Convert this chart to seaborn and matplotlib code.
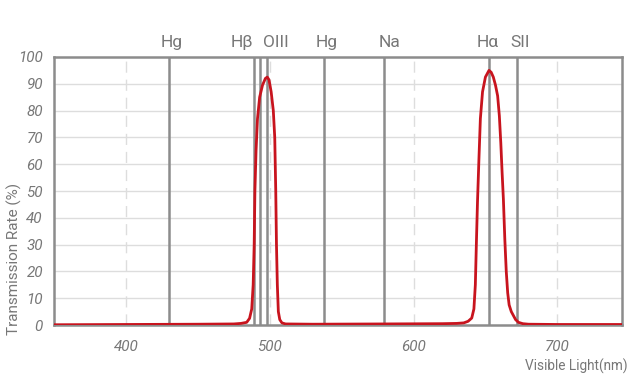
import matplotlib
matplotlib.use('Agg')
import matplotlib.pyplot as plt
import pandas as pd
import seaborn as sns

# transmission curve (nm, %)
wavelength = [350, 400, 450, 475, 480, 484, 486, 487.5, 488.5, 489.2, 489.7, 490.5, 491.5,
              493, 495, 497, 498.3, 499.5, 501, 502.5, 503.5, 504.2, 504.7, 505.3, 506,
              507, 508.5, 511, 530, 580, 620, 630, 635, 638, 640.5, 642, 643, 643.7,
              644.5, 645.5, 646.5, 648, 650, 652.5, 654, 655.5, 657, 658.5, 659.7, 660.7,
              661.6, 662.5, 663.5, 664.5, 665.5, 666.5, 668, 669.5, 671, 673, 676, 680,
              700, 745]
transmission = [0.1, 0.2, 0.3, 0.4, 0.6, 1.0, 2.5, 6, 15, 30, 50, 65, 77,
                85, 89.5, 92, 92.5, 91.5, 87, 80, 70, 50, 30, 15, 5,
                2, 0.8, 0.4, 0.3, 0.4, 0.5, 0.6, 0.8, 1.4, 2.6, 6, 15, 30,
                46, 62, 77, 87, 92.5, 95, 94.3, 92.5, 89.5, 85.5, 78, 68,
                57, 47, 32, 20, 12, 7.5, 5, 3.5, 2, 1, 0.5, 0.3,
                0.2, 0.2]

# emission lines and their labels
line_pos = [430, 489, 493.5, 498, 537.5, 579.5, 652.3, 672]
label_text = ['Hg', 'Hβ', 'OIII', 'Hg', 'Na', 'Hα', 'SII']
label_pos = [432, 480.5, 504, 539.5, 583, 651.5, 674]

x_ticks = [400, 500, 600, 700]
y_ticks = [0, 10, 20, 30, 40, 50, 60, 70, 80, 90, 100]

df = pd.DataFrame({'Wavelength': wavelength, 'Transmission': transmission})

sns.set_style('white')
plt.rcParams['font.family'] = ['Roboto', 'DejaVu Sans']

fig = plt.figure(figsize=(6.4, 3.84), dpi=100)
ax = fig.add_axes([0.0844, 0.1536, 0.8875, 0.698])

# grid
for y in y_ticks[1:-1]:
    ax.axhline(y, color='#dddddd', lw=1, zorder=0)
for x in x_ticks:
    ax.axvline(x, color='#dddddd', lw=1, ls=(0, (8, 5)), zorder=0)

for x in line_pos:
    ax.axvline(x, color='#8c8c8c', lw=1.8, zorder=1)

sns.lineplot(data=df, x='Wavelength', y='Transmission', color='#c8141e', lw=2,
             ax=ax, zorder=3)

ax.set_xlim(350, 745)
ax.set_ylim(0, 100)
ax.set_xticks(x_ticks)
ax.set_yticks(y_ticks)
ax.tick_params(length=0, labelsize=11, labelcolor='#777777', pad=8)
ax.tick_params(axis='x', pad=11)
for t in ax.get_xticklabels() + ax.get_yticklabels():
    t.set_fontstyle('italic')

for s in ax.spines.values():
    s.set_color('#8c8c8c')
    s.set_linewidth(1.8)

for txt, x in zip(label_text, label_pos):
    ax.text(x, 102.5, txt, ha='center', va='bottom', fontsize=12.5, color='#777777')

ax.set_xlabel('')
ax.set_ylabel('')
fig.text(0.98, 0.047, 'Visible Light(nm)', ha='right', va='center', fontsize=9.8,
         color='#777777')
fig.text(0.022, 0.326, 'Transmission Rate (%)', ha='center', va='center',
         rotation=90, fontsize=11, color='#777777')

fig.savefig('out.png', dpi=100)
